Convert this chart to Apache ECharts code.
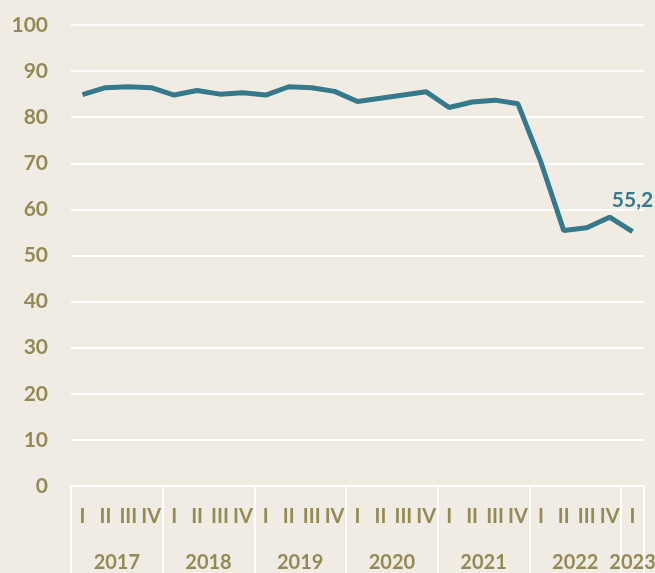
<!DOCTYPE html>
<html>
<head>
<meta charset="utf-8">
<script src="https://cdn.jsdelivr.net/npm/echarts@6/dist/echarts.min.js"></script>
<style>
  html, body { margin: 0; padding: 0; background: #f0ece4; }
  #chart { width: 655px; height: 573px; }
</style>
</head>
<body>
<div id="chart"></div>
<script>
// kvartaler 2017 I - 2023 I
var quarters = ['I', 'II', 'III', 'IV', 'I', 'II', 'III', 'IV', 'I', 'II', 'III', 'IV',
  'I', 'II', 'III', 'IV', 'I', 'II', 'III', 'IV', 'I', 'II', 'III', 'IV', 'I'];
var years = ['2017', '2018', '2019', '2020', '2021', '2022', '2023'];
var quartersPerYear = [4, 4, 4, 4, 4, 4, 1];
var values = [84.9, 86.4, 86.6, 86.4, 84.8, 85.8, 85.0, 85.3, 84.8, 86.6, 86.4, 85.6,
  83.4, 84.1, 84.8, 85.5, 82.1, 83.3, 83.7, 82.9, 70.3, 55.4, 56.0, 58.3, 55.2];
var yTicks = [0, 10, 20, 30, 40, 50, 60, 70, 80, 90, 100];

var textColor = '#958a55';
var lineColor = '#35798b';
var font = 'Lato, "Open Sans", sans-serif';

// midtpunkt for hvert år (i kvartals-enheter)
var yearCenters = {};
var pos = 0;
for (var i = 0; i < years.length; i++) {
  yearCenters[(pos + quartersPerYear[i] / 2).toFixed(1)] = years[i];
  pos += quartersPerYear[i];
}
var total = quarters.length;

var seriesData = values.map(function (v, i) {
  if (i === values.length - 1) {
    return {
      value: v,
      label: {
        show: true,
        position: 'top',
        distance: 21,
        formatter: function (p) { return String(p.value).replace('.', ','); },
        color: lineColor,
        fontSize: 21,
        fontWeight: 'bold',
        fontFamily: font
      }
    };
  }
  return v;
});

var chart = echarts.init(document.getElementById('chart'), null, { renderer: 'canvas' });
chart.setOption({
  backgroundColor: '#f0ece4',
  animation: false,
  grid: { left: 71, right: 11, top: 25, bottom: 87, containLabel: false, outerBoundsMode: 'none' },
  xAxis: [{
    type: 'category',
    data: quarters,
    position: 'bottom',
    boundaryGap: true,
    axisLine: { show: true, lineStyle: { color: '#ffffff', width: 2 } },
    axisTick: { show: false },
    axisLabel: {
      interval: 0,
      margin: 21,
      color: textColor,
      fontSize: 20,
      fontWeight: 'bold',
      fontFamily: font
    }
  }, {
    // skillelinjer mellom årene
    type: 'value',
    min: 0,
    max: total,
    interval: 4,
    position: 'bottom',
    axisLine: { show: false },
    axisTick: { show: true, length: 90, lineStyle: { color: '#ffffff', width: 2 } },
    axisLabel: { show: false },
    splitLine: { show: false }
  }, {
    // årstall
    type: 'value',
    min: 0,
    max: total,
    interval: 0.5,
    position: 'bottom',
    axisLine: { show: false },
    axisTick: { show: false },
    splitLine: { show: false },
    axisLabel: {
      margin: 67,
      color: textColor,
      fontSize: 20,
      fontWeight: 'bold',
      fontFamily: font,
      formatter: function (v) { return yearCenters[v.toFixed(1)] || ''; }
    }
  }],
  yAxis: {
    type: 'value',
    min: yTicks[0],
    max: yTicks[yTicks.length - 1],
    interval: 10,
    axisLine: { show: false },
    axisTick: { show: false },
    splitLine: { show: true, lineStyle: { color: '#ffffff', width: 2 } },
    axisLabel: {
      margin: 23,
      color: textColor,
      fontSize: 21,
      fontWeight: 'bold',
      fontFamily: font
    }
  },
  series: [{
    type: 'line',
    xAxisIndex: 0,
    data: seriesData,
    symbol: 'circle',
    symbolSize: 0,
    showSymbol: true,
    lineStyle: { color: lineColor, width: 5 },
    itemStyle: { color: lineColor }
  }]
});
</script>
</body>
</html>
